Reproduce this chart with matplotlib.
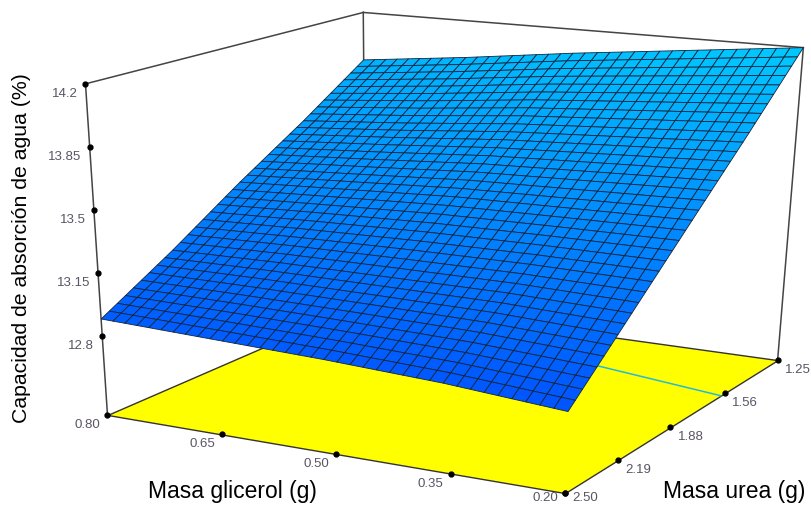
#!/usr/bin/env python3

import numpy as np
import matplotlib
matplotlib.use("Agg")
import matplotlib.pyplot as plt
from matplotlib.colors import LinearSegmentedColormap

plt.rcParams["font.family"] = ["Liberation Sans", "DejaVu Sans"]

W, H = 811, 506

glicerol_ticks = [0.80, 0.65, 0.50, 0.35, 0.20]
urea_ticks = [1.25, 1.56, 1.88, 2.19, 2.50]
agua_ticks = [12.8, 13.15, 13.5, 13.85, 14.2]
agua_floor = 12.33
agua_top = 14.2

# values at the tick positions (rows urea, columns glicerol)
agua_values = [
    [13.91, 13.98, 14.06, 14.13, 14.20],
    [13.65, 13.70, 13.76, 13.80, 13.84],
    [13.40, 13.43, 13.46, 13.47, 13.48],
    [13.14, 13.15, 13.15, 13.15, 13.13],
    [12.90, 12.88, 12.86, 12.83, 12.78],
]

contour_glicerol = [0.20, 0.50]
contour_urea = [1.625, 1.465]

# where box corners sit in the picture, used to calibrate the camera
box_corners = [
    (0.80, 2.50, agua_floor, 108, 415),
    (0.20, 2.50, agua_floor, 565, 495),
    (0.20, 1.25, agua_floor, 778, 360),
    (0.80, 1.25, agua_floor, 365, 305),
    (0.80, 2.50, agua_top, 85, 85),
    (0.80, 1.25, agua_top, 364, 13),
    (0.20, 1.25, agua_top, 803, 49),
]


def fit_camera(corners):
    corners = np.array(corners, dtype=float)
    pts = corners[:, :3]
    low, high = pts.min(axis=0), pts.max(axis=0)
    scale = np.diag(list(1 / (high - low)) + [1.0])
    scale[:3, 3] = -low / (high - low)

    rows = []
    for (a, b, c, u, v) in corners:
        p = scale @ np.array([a, b, c, 1.0])
        rows.append(list(p) + [0, 0, 0, 0] + list(-u * p))
        rows.append([0, 0, 0, 0] + list(p) + list(-v * p))
    cam = np.linalg.svd(np.array(rows))[2][-1].reshape(3, 4) @ scale
    if cam[2] @ np.array([0.5, 1.9, 13.2, 1.0]) < 0:
        cam = -cam
    return cam


camera = fit_camera(box_corners)


def to_pixel(g, u, z):
    p = camera @ np.array([g, u, z, 1.0])
    return p[0] / p[2], p[1] / p[2]


def even_on_edge(ticks, pixel_of):
    # the original spaces its ticks evenly on screen, not in perspective
    ticks = np.array(ticks, dtype=float)
    dense = np.linspace(ticks.min(), ticks.max(), 500)
    pix = np.array([pixel_of(d) for d in dense])
    if pix[0] > pix[-1]:
        dense, pix = dense[::-1], pix[::-1]
    start, end = pixel_of(ticks[0]), pixel_of(ticks[-1])
    return np.interp(start + (ticks - ticks[0]) / (ticks[-1] - ticks[0]) * (end - start), pix, dense)


def put_text(px, py, s, **kw):
    fig.text(px / W, 1 - py / H, s, **kw)


fig = plt.figure(figsize=(W / 100, H / 100), dpi=100)
ax = fig.add_axes([0, 0, 1, 1], projection="3d")
ax.set_axis_off()
ax.set_proj_type("ortho")  # only switches off the line clipping, get_proj is replaced below
ax.computed_zorder = False
ax.apply_aspect = lambda position=None: None
ax.viewLim.intervalx = (0, W)
ax.viewLim.intervaly = (H, 0)

depth_row = camera[2] + np.array([0, 0, 0, -0.5 * (camera[2] @ np.array([0.5, 1.9, 13.2, 1.0]))])
ax.get_proj = lambda: np.vstack([camera[0], camera[1], depth_row, camera[2]])

# floor
g_ends = np.array([glicerol_ticks[0], glicerol_ticks[-1]])
u_ends = np.array([urea_ticks[0], urea_ticks[-1]])
gg, uu = np.meshgrid(g_ends, u_ends)
ax.plot_surface(gg, uu, np.full(gg.shape, agua_floor), color="#ffff00", shade=False,
                edgecolor="#333333", linewidth=1.0, zorder=1)
ax.plot(contour_glicerol, contour_urea, [agua_floor] * 2, color="#22bbd8", lw=1.1, zorder=2)

# box edges
edge = dict(color="#444444", lw=1.1, zorder=1.5)
ax.plot([0.8, 0.8], [2.5, 2.5], [agua_floor, agua_top], **edge)
ax.plot([0.8, 0.8], [1.25, 1.25], [agua_floor, agua_top], **edge)
ax.plot([0.2, 0.2], [1.25, 1.25], [agua_floor, agua_top], **edge)
ax.plot([0.8, 0.8], [2.5, 1.25], [agua_top, agua_top], **edge)
ax.plot([0.8, 0.2], [1.25, 1.25], [agua_top, agua_top], **edge)

# surface, the mesh is only refined between the values read at the ticks
mesh_g = np.linspace(0.80, 0.20, 37)
mesh_u = np.linspace(1.25, 2.50, 37)
table = np.array(agua_values)
by_g = np.array([np.interp(mesh_g, glicerol_ticks[::-1], row[::-1]) for row in table])
mesh_z = np.array([np.interp(mesh_u, urea_ticks, by_g[:, j]) for j in range(len(mesh_g))]).T

cmap = LinearSegmentedColormap.from_list("agua", ["#0055ff", "#00c8ff"])
mid_z = 0.25 * (mesh_z[:-1, :-1] + mesh_z[1:, :-1] + mesh_z[:-1, 1:] + mesh_z[1:, 1:])
colors = cmap((mid_z - mid_z.min()) / (mid_z.max() - mid_z.min()))
mg, mu = np.meshgrid(mesh_g, mesh_u)
ax.plot_surface(mg, mu, mesh_z, facecolors=colors, shade=False, rstride=1, cstride=1,
                edgecolor="#14243c", linewidth=0.6, zorder=3)

# ticks
g_pos = even_on_edge(glicerol_ticks, lambda d: to_pixel(d, 2.5, agua_floor)[0])
u_pos = even_on_edge(urea_ticks, lambda d: to_pixel(0.2, d, agua_floor)[0])
z_pos = even_on_edge(agua_ticks, lambda d: to_pixel(0.8, 2.5, d)[1])

dot = dict(color="black", marker="o", ms=3.5, ls="none", zorder=4)
ax.plot(g_pos, [2.5] * 5, [agua_floor] * 5, **dot)
ax.plot([0.2] * 5, u_pos, [agua_floor] * 5, **dot)
ax.plot([0.8] * 5, [2.5] * 5, z_pos, **dot)

tick_text = dict(color="#5a5464", fontsize=9.5, va="center")
for g, pos in zip(glicerol_ticks, g_pos):
    px, py = to_pixel(pos, 2.5, agua_floor)
    put_text(px - 20, min(py + 9, 498), "%.2f" % g, ha="center", **tick_text)
for u, pos in zip(urea_ticks, u_pos):
    px, py = to_pixel(0.2, pos, agua_floor)
    put_text(px + 20, min(py + 9, 498), "%.2f" % u, ha="center", **tick_text)
for z, pos in zip(agua_ticks, z_pos):
    px, py = to_pixel(0.8, 2.5, pos)
    put_text(px - 8, py + 9, "%g" % z, ha="right", **tick_text)

put_text(232, 492, "Masa glicerol (g)", fontsize=16.5, ha="center", va="center")
put_text(734, 492, "Masa urea (g)", fontsize=16.5, ha="center", va="center")
put_text(22, 248, "Capacidad de absorción de agua (%)", fontsize=15.3, rotation=90,
         ha="center", va="center")

fig.savefig("out.png", dpi=100)
